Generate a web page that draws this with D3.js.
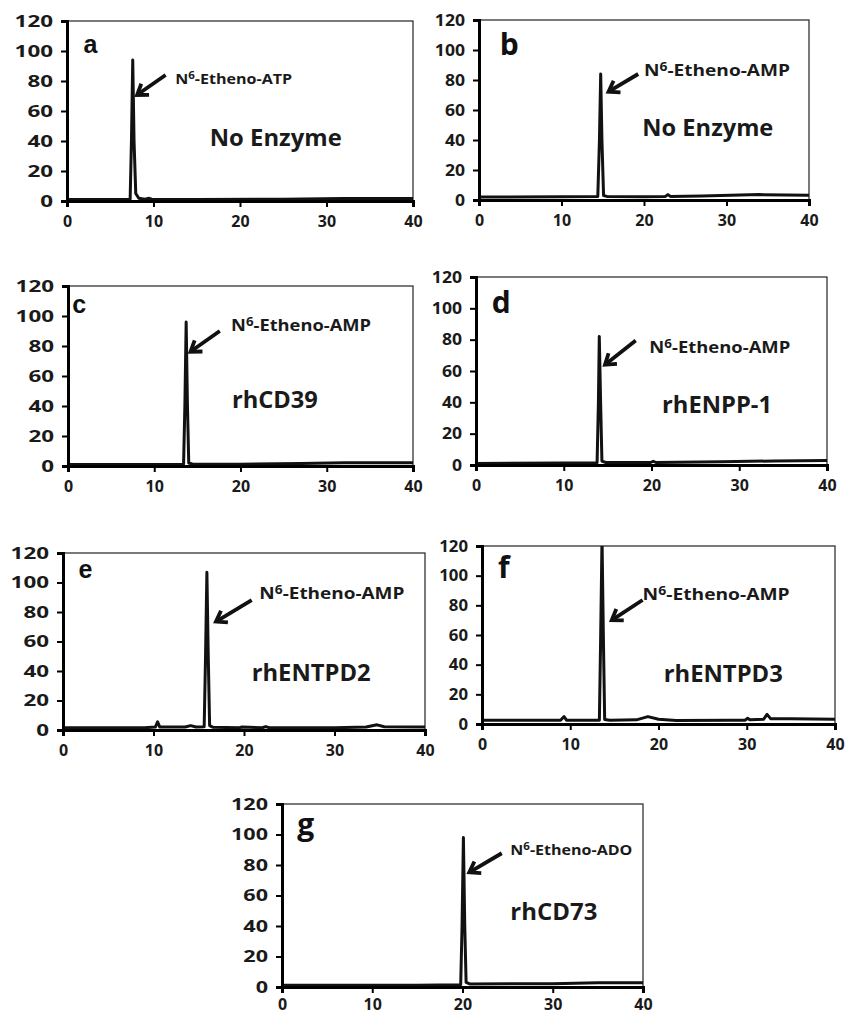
<!DOCTYPE html>
<html>
<head>
<meta charset="utf-8">
<script src="https://cdn.jsdelivr.net/npm/d3@7"></script>
<style>
  body { margin: 0; background: #fff; }
  svg { display: block; }
</style>
</head>
<body>
<div id="chart"></div>
<script>
// chromatogram traces, [time (min), signal]
const traceA = [[0,1],[5,1],[7.3,1.2],[7.45,40],[7.6,94],[7.75,40],[7.95,5],[8.3,1.8],[9,1.2],[9.5,1.8],[9.8,1.2],[15,1],[25,1.2],[32,1.6],[40,1.6]];
const traceB = [[0,2],[10,2.2],[14.4,2.4],[14.6,40],[14.75,84],[14.9,40],[15.1,3],[15.5,2.4],[20,2.2],[22.6,2.4],[22.9,3.6],[23.2,2.4],[27,2.6],[34,3.6],[40,3.2]];
const traceC = [[0,1],[10,1],[13.4,1.2],[13.55,40],[13.7,96],[13.85,40],[14,2],[14.4,1.3],[20,1.2],[27,1.6],[32,2.2],[40,2.2]];
const traceD = [[0,1],[10,1.2],[13.8,1.4],[13.95,40],[14.05,82],[14.2,40],[14.35,2.5],[14.8,1.6],[19.9,1.6],[20.2,2.4],[20.5,1.6],[28,2],[34,2.6],[40,2.8]];
const traceE = [[0,1.5],[9,1.5],[10.2,2],[10.45,5.5],[10.7,2],[13.5,2],[14.1,3],[14.7,2],[15.6,2.2],[15.75,50],[15.9,107],[16.05,50],[16.2,3],[16.6,1.8],[19.5,1.5],[19.8,2],[22,1.5],[22.4,2.3],[22.8,1.5],[30,1.5],[33.5,2],[34.7,3.5],[35.5,2.2],[40,2]];
const traceF = [[0,2.5],[8.9,2.5],[9.3,5],[9.6,2.5],[13.3,2.6],[13.45,60],[13.6,125],[13.75,60],[13.9,3],[14.5,2.5],[17.5,2.8],[18.8,5],[20,3.2],[22,2.4],[28,2.6],[29.8,2.6],[30.1,3.8],[30.4,2.8],[31.9,3.2],[32.3,6.5],[32.7,3.6],[35,3.5],[40,3.2]];
const traceG = [[0,1.2],[15,1.2],[19.8,1.5],[19.95,40],[20.1,98],[20.25,40],[20.4,3],[20.8,2],[30,2.2],[35,2.8],[40,2.8]];

const panelLetters = ['a', 'b', 'c', 'd', 'e', 'f', 'g'];
const compounds = ['ATP', 'AMP', 'AMP', 'AMP', 'AMP', 'AMP', 'ADO'];
const conditions = ['No Enzyme', 'No Enzyme', 'rhCD39', 'rhENPP-1', 'rhENTPD2', 'rhENTPD3', 'rhCD73'];
// arrow [tailT, tailV, tipT, tipV], label anchors [t, v] in data units
const arrows = [[11.4,84,8.1,70.7],[19.3,84,15.7,72.2],[17.6,90,14.2,76.2],[18.2,79.5,14.7,64],[20.85,88,16.9,73.5],[18.2,83.6,14.7,70],[24.35,87.7,20.75,75.2]];
const compoundPos = [[12.5,78],[20,82.7],[18.9,90],[19.75,71.5],[21.7,89],[18.2,83.6],[25.3,86.5]];
const conditionPos = [[16.5,37],[19.8,43],[19,38.5],[21.2,33],[20.85,33],[20.6,28.5],[25.3,44]];
const letterPos = [[1.9,98.7],[2.5,96.7],[0.5,102],[1.8,97],[1.7,103],[1.8,98.5],[1.7,100]];
const xTicks = [0, 10, 20, 30, 40];
const yTicks = [0, 20, 40, 60, 80, 100, 120];
const traces = [traceA, traceB, traceC, traceD, traceE, traceF, traceG];

// layout: pixel boxes of each plot area [left, top, right, bottom]
const boxes = [
    [67, 21, 413, 201],
    [479, 20, 809, 200],
    [68, 286, 413, 466],
    [476, 277, 827, 465],
    [63, 553, 425, 730],
    [482, 546, 835, 724],
    [282, 804, 643, 987]
];
const letterFonts = ['Liberation Sans', 'Open Sans', 'Liberation Sans', 'Open Sans', 'Liberation Sans', 'Open Sans', 'Open Sans'];
const yLabelStretch = [1.4, 1.1, 1.4, 1.1, 1.4, 1.05, 1.35];
const xLabelPad = [9, 9, 9, 9, 9, 9, 6];
const compoundWidth = [117, 146, 140, 141, 145, 147, 122];
const conditionWidth = [132, 131, 86, 110, 119, 119, 87];
const FONT = '"Open Sans", Lato, sans-serif';

const svg = d3.select('#chart')
    .append('svg')
    .attr('width', 853)
    .attr('height', 1016);

traces.forEach((data, i) => {
    const [x0, y0, x1, y1] = boxes[i];
    const w = x1 - x0, h = y1 - y0;
    const g = svg.append('g').attr('transform', `translate(${x0},${y0})`);

    const xScale = d3.scaleLinear().domain([0, 40]).range([0, w]);
    const yScale = d3.scaleLinear().domain([0, 120]).range([h, 0]);

    g.append('clipPath').attr('id', 'clip' + i)
        .append('rect').attr('x', 0).attr('y', 0).attr('width', w).attr('height', h);

    // thin frame top/right
    g.append('rect')
        .attr('x', 0).attr('y', 0).attr('width', w).attr('height', h)
        .attr('fill', 'none').attr('stroke', '#222').attr('stroke-width', 1.2);

    const line = d3.line()
        .x(d => xScale(d[0]))
        .y(d => yScale(d[1]));

    g.append('path')
        .datum(data)
        .attr('clip-path', `url(#clip${i})`)
        .attr('fill', 'none')
        .attr('stroke', '#111')
        .attr('stroke-width', 3)
        .attr('stroke-linejoin', 'round')
        .attr('d', line);

    const yAxis = g.append('g')
        .call(d3.axisLeft(yScale).tickValues(yTicks).tickSize(6).tickPadding(8));
    const xAxis = g.append('g')
        .attr('transform', `translate(0,${h})`)
        .call(d3.axisBottom(xScale).tickValues(xTicks).tickSize(6).tickPadding(xLabelPad[i]));

    [yAxis, xAxis].forEach(ax => {
        ax.select('.domain').attr('stroke', '#000').attr('stroke-width', 3);
        ax.selectAll('.tick line').attr('stroke', '#000').attr('stroke-width', 2);
        ax.selectAll('.tick text')
            .attr('fill', '#1a1a1a')
            .style('font-family', FONT)
            .style('font-weight', 'bold')
            .style('font-size', '16px');
    });
    // y labels in the source are horizontally wider
    yAxis.selectAll('.tick text')
        .attr('transform', `translate(-14,0) scale(${yLabelStretch[i]},1)`)
        .attr('x', 0);

    // panel letter
    g.append('text')
        .attr('x', letterPos[i][0] * w / 40)
        .attr('y', yScale(letterPos[i][1]))
        .text(panelLetters[i])
        .style('font-family', letterFonts[i])
        .style('font-weight', 'bold')
        .style('font-size', letterFonts[i] === 'Open Sans' ? '30px' : '25px')
        .attr('fill', '#111');

    // arrow
    const [tt, tv, pt, pv] = arrows[i];
    const ax = xScale(tt), ay = yScale(tv), px = xScale(pt), py = yScale(pv);
    const ang = Math.atan2(ay - py, ax - px);
    const hl = 12, spread = 0.6;
    g.append('line')
        .attr('x1', ax).attr('y1', ay).attr('x2', px + Math.cos(ang) * 2).attr('y2', py + Math.sin(ang) * 2)
        .attr('stroke', '#111').attr('stroke-width', 3.8);
    g.append('path')
        .attr('d', `M${px + Math.cos(ang + spread) * hl},${py + Math.sin(ang + spread) * hl}L${px},${py}L${px + Math.cos(ang - spread) * hl},${py + Math.sin(ang - spread) * hl}`)
        .attr('fill', 'none').attr('stroke', '#111').attr('stroke-width', 3.8)
        .attr('stroke-linejoin', 'miter');

    // compound label with superscript
    const small = compoundWidth[i] < 125;
    const lbl = g.append('text')
        .attr('x', xScale(compoundPos[i][0]))
        .attr('y', yScale(compoundPos[i][1]))
        .attr('textLength', compoundWidth[i])
        .attr('lengthAdjust', 'spacingAndGlyphs')
        .style('font-family', FONT)
        .style('font-weight', 'bold')
        .style('font-size', small ? '14px' : '16.5px')
        .attr('fill', '#1a1a1a');
    lbl.append('tspan').text('N');
    lbl.append('tspan').text('6').attr('dy', -5).style('font-size', small ? '10px' : '12px');
    lbl.append('tspan').text('-Etheno-' + compounds[i]).attr('dy', 5);

    g.append('text')
        .attr('x', xScale(conditionPos[i][0]))
        .attr('y', yScale(conditionPos[i][1]))
        .attr('textLength', conditionWidth[i])
        .attr('lengthAdjust', 'spacingAndGlyphs')
        .text(conditions[i])
        .style('font-family', FONT)
        .style('font-weight', 'bold')
        .style('font-size', '23px')
        .attr('fill', '#1a1a1a');
});
</script>
</body>
</html>
